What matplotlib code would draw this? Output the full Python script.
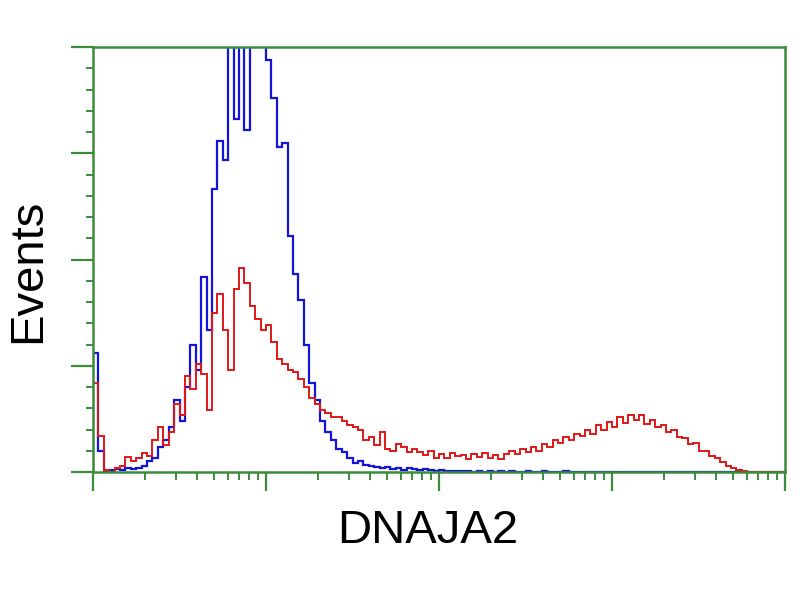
import matplotlib
matplotlib.use("Agg")
import matplotlib.pyplot as plt
import numpy as np
from matplotlib.ticker import MultipleLocator, LogLocator, NullFormatter

# histogram channels: 128 log-spaced bins over 4 decades
edges = np.logspace(0, 4, 129)

blue = [56, 10, 0.5, 1, 1.5, 1, 2, 1.5, 2, 3,
        5, 6.5, 12, 15, 21, 34, 24, 40, 60, 48,
        92, 67, 133, 156, 147, 210, 166, 230, 161, 220,
        240, 205, 194, 176, 153, 155, 111, 93, 81, 60,
        42, 34, 24, 19, 15, 11, 9.4, 6.6, 4.2, 5.2,
        3.3, 2.8, 2.4, 1.9, 2.4, 1.4, 1.9, 0.9, 1.9, 1.4,
        0.9, 1.4, 0.9, 0.5, 0.9, 0.5, 0.5, 0.5, 0.3, 0.5,
        0, 0.4, 0, 0.5, 0, 0.3, 0, 0.4, 0, 0,
        0.3, 0, 0, 0.3, 0, 0, 0, 0.3, 0, 0,
        0, 0, 0, 0, 0, 0, 0, 0, 0, 0,
        0, 0, 0, 0, 0, 0, 0, 0, 0, 0,
        0, 0, 0, 0, 0, 0, 0, 0, 0, 0,
        0, 0, 0, 0, 0, 0, 0, 0]

red = [42, 17, 1, 0, 2, 3, 7, 5, 6.5, 9,
       7.5, 15, 21, 12.7, 19, 32, 27, 45, 39, 51,
       46, 29, 75, 84, 67, 48, 86, 96, 89, 78,
       72, 67, 69, 61, 53, 51, 48, 47, 44, 40,
       35, 32, 29, 28, 26, 26, 24, 22, 21, 20,
       15, 16.5, 12.7, 19, 11, 10, 13, 12, 9.4, 11,
       9.4, 8, 10, 6.6, 8.5, 6.6, 9, 7.5, 8, 6,
       8.5, 7, 9, 6.6, 8, 6, 8.5, 10, 8.5, 11,
       9.4, 12, 10, 13, 12, 15, 13.6, 16.5, 15, 18,
       17, 20, 18, 22, 20, 23.5, 21, 26, 23, 27,
       24.5, 27, 22.6, 24.5, 21, 22, 19, 20, 16.5, 16,
       13, 13.6, 10, 10, 7.5, 6.6, 4.7, 2.8, 1.9, 0.9,
       0.5, 0, 0, 0, 0, 0, 0, 0]

green = "#3c8c3c"

fig = plt.figure(figsize=(8, 6), dpi=100)
ax = fig.add_axes((0.11625, 0.21333, 0.865, 0.70833))
ax.stairs(blue, edges, color="#1414d8", lw=1.6)
ax.stairs(red, edges, color="#e01818", lw=1.4)

ax.set_xscale("log")
ax.set_xlim(1, 1e4)
ax.set_ylim(0, 200)

ax.yaxis.set_major_locator(MultipleLocator(50))
ax.yaxis.set_minor_locator(MultipleLocator(10))
ax.xaxis.set_major_locator(LogLocator(base=10))
ax.xaxis.set_minor_locator(LogLocator(base=10, subs=np.arange(2, 10)))
ax.xaxis.set_major_formatter(NullFormatter())
ax.xaxis.set_minor_formatter(NullFormatter())
ax.yaxis.set_major_formatter(NullFormatter())

for s in ax.spines.values():
    s.set_color(green)
    s.set_linewidth(1.8)

ax.tick_params(axis="y", which="major", direction="out", length=16, width=1.6, color=green)
ax.tick_params(axis="y", which="minor", direction="out", length=5, width=1.4, color=green)
ax.tick_params(axis="x", which="major", direction="out", length=14, width=1.6, color=green)
ax.tick_params(axis="x", which="minor", direction="out", length=6, width=1.4, color=green)

fig.text(0.035, 0.548, "Events", rotation=90, ha="center", va="center",
         fontsize=34, family="Liberation Sans")
fig.text(0.535, 0.115, "DNAJA2", ha="center", va="center",
         fontsize=34, family="Liberation Sans")

fig.savefig("out.png", dpi=100)
